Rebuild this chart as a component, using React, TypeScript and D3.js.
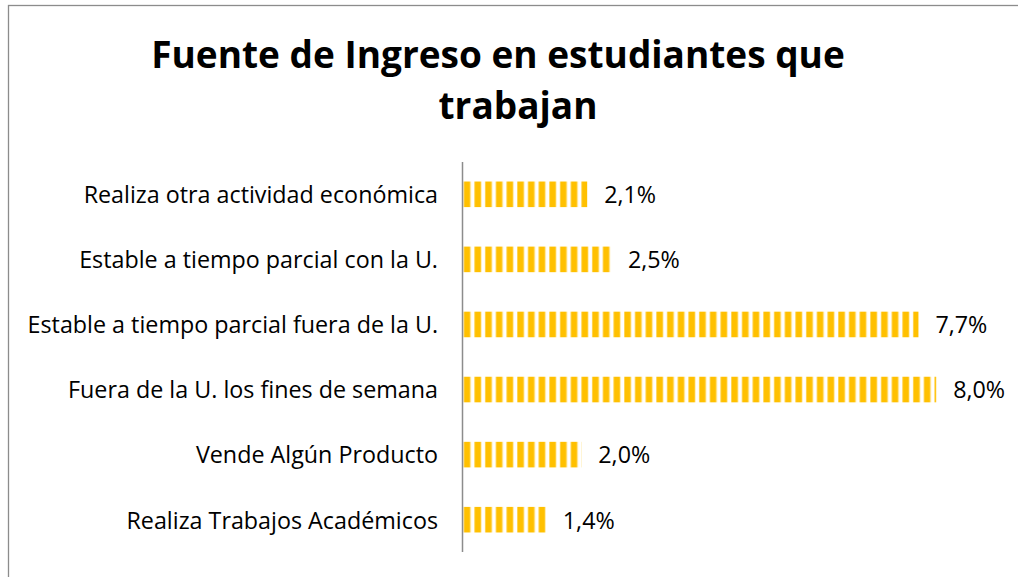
import React from "react";
import * as d3 from "d3";

const categories = [
  "Realiza otra actividad económica",
  "Estable a tiempo parcial con la U.",
  "Estable a tiempo parcial fuera de la U.",
  "Fuera de la U. los fines de semana",
  "Vende Algún Producto",
  "Realiza Trabajos Académicos",
];
const values = [2.1, 2.5, 7.7, 8.0, 2.0, 1.4];
const valueLabels = ["2,1%", "2,5%", "7,7%", "8,0%", "2,0%", "1,4%"];
const titleLines = ["Fuente de Ingreso en estudiantes que", "trabajan"];

const W = 1018;
const H = 577;
const FONT = "'Open Sans', Lato, sans-serif";

export default function App() {
  const axisX = 462.5;
  const x = d3.scaleLinear().domain([0, 8]).range([463, 463 + 8 * 59.15]);
  const y = d3
    .scaleBand<string>()
    .domain(categories)
    .range([162, 552])
    .paddingInner(0.607)
    .paddingOuter(0.3);
  const titleX = [498, 518];

  return (
    <div style={{ position: "absolute", left: 0, top: 0 }}>
      <svg width={W} height={H} style={{ display: "block" }}>
        <defs>
          <pattern
            id="stripes"
            patternUnits="userSpaceOnUse"
            x={x(0) + 0.5}
            y={0}
            width={10.7}
            height={10}
          >
            <rect x={0} y={0} width={7.2} height={10} fill="#FFD966" />
            <rect x={0.8} y={0} width={5.6} height={10} fill="#FFC000" />
          </pattern>
        </defs>
        <rect x={0} y={0} width={W} height={H} fill="#fff" />
        <rect
          x={8.5}
          y={5.5}
          width={W + 20}
          height={H + 20}
          fill="none"
          stroke="#8c8c8c"
          strokeWidth={1.3}
        />
        <g
          fontFamily={FONT}
          fontWeight="bold"
          fontSize={37}
          textAnchor="middle"
          fill="#000"
        >
          {titleLines.map((t, i) => (
            <text key={t} x={titleX[i]} y={68 + i * 51}>
              {t}
            </text>
          ))}
        </g>
        {categories.map((c, i) => {
          const y0 = y(c) as number;
          const bw = y.bandwidth();
          const cy = y0 + bw / 2;
          return (
            <g key={c}>
              <rect
                x={x(0)}
                y={y0}
                width={x(values[i]) - x(0)}
                height={bw}
                fill="url(#stripes)"
              />
              <text
                x={438}
                y={cy}
                dy="0.38em"
                textAnchor="end"
                fontFamily={FONT}
                fontSize={23.3}
                fill="#000"
              >
                {c}
              </text>
              <text
                x={x(values[i]) + 17}
                y={cy}
                dy="0.38em"
                fontFamily={FONT}
                fontSize={23.3}
                fill="#000"
              >
                {valueLabels[i]}
              </text>
            </g>
          );
        })}
        <line
          x1={axisX}
          x2={axisX}
          y1={162}
          y2={552}
          stroke="#8c8c8c"
          strokeWidth={1.5}
        />
      </svg>
    </div>
  );
}
